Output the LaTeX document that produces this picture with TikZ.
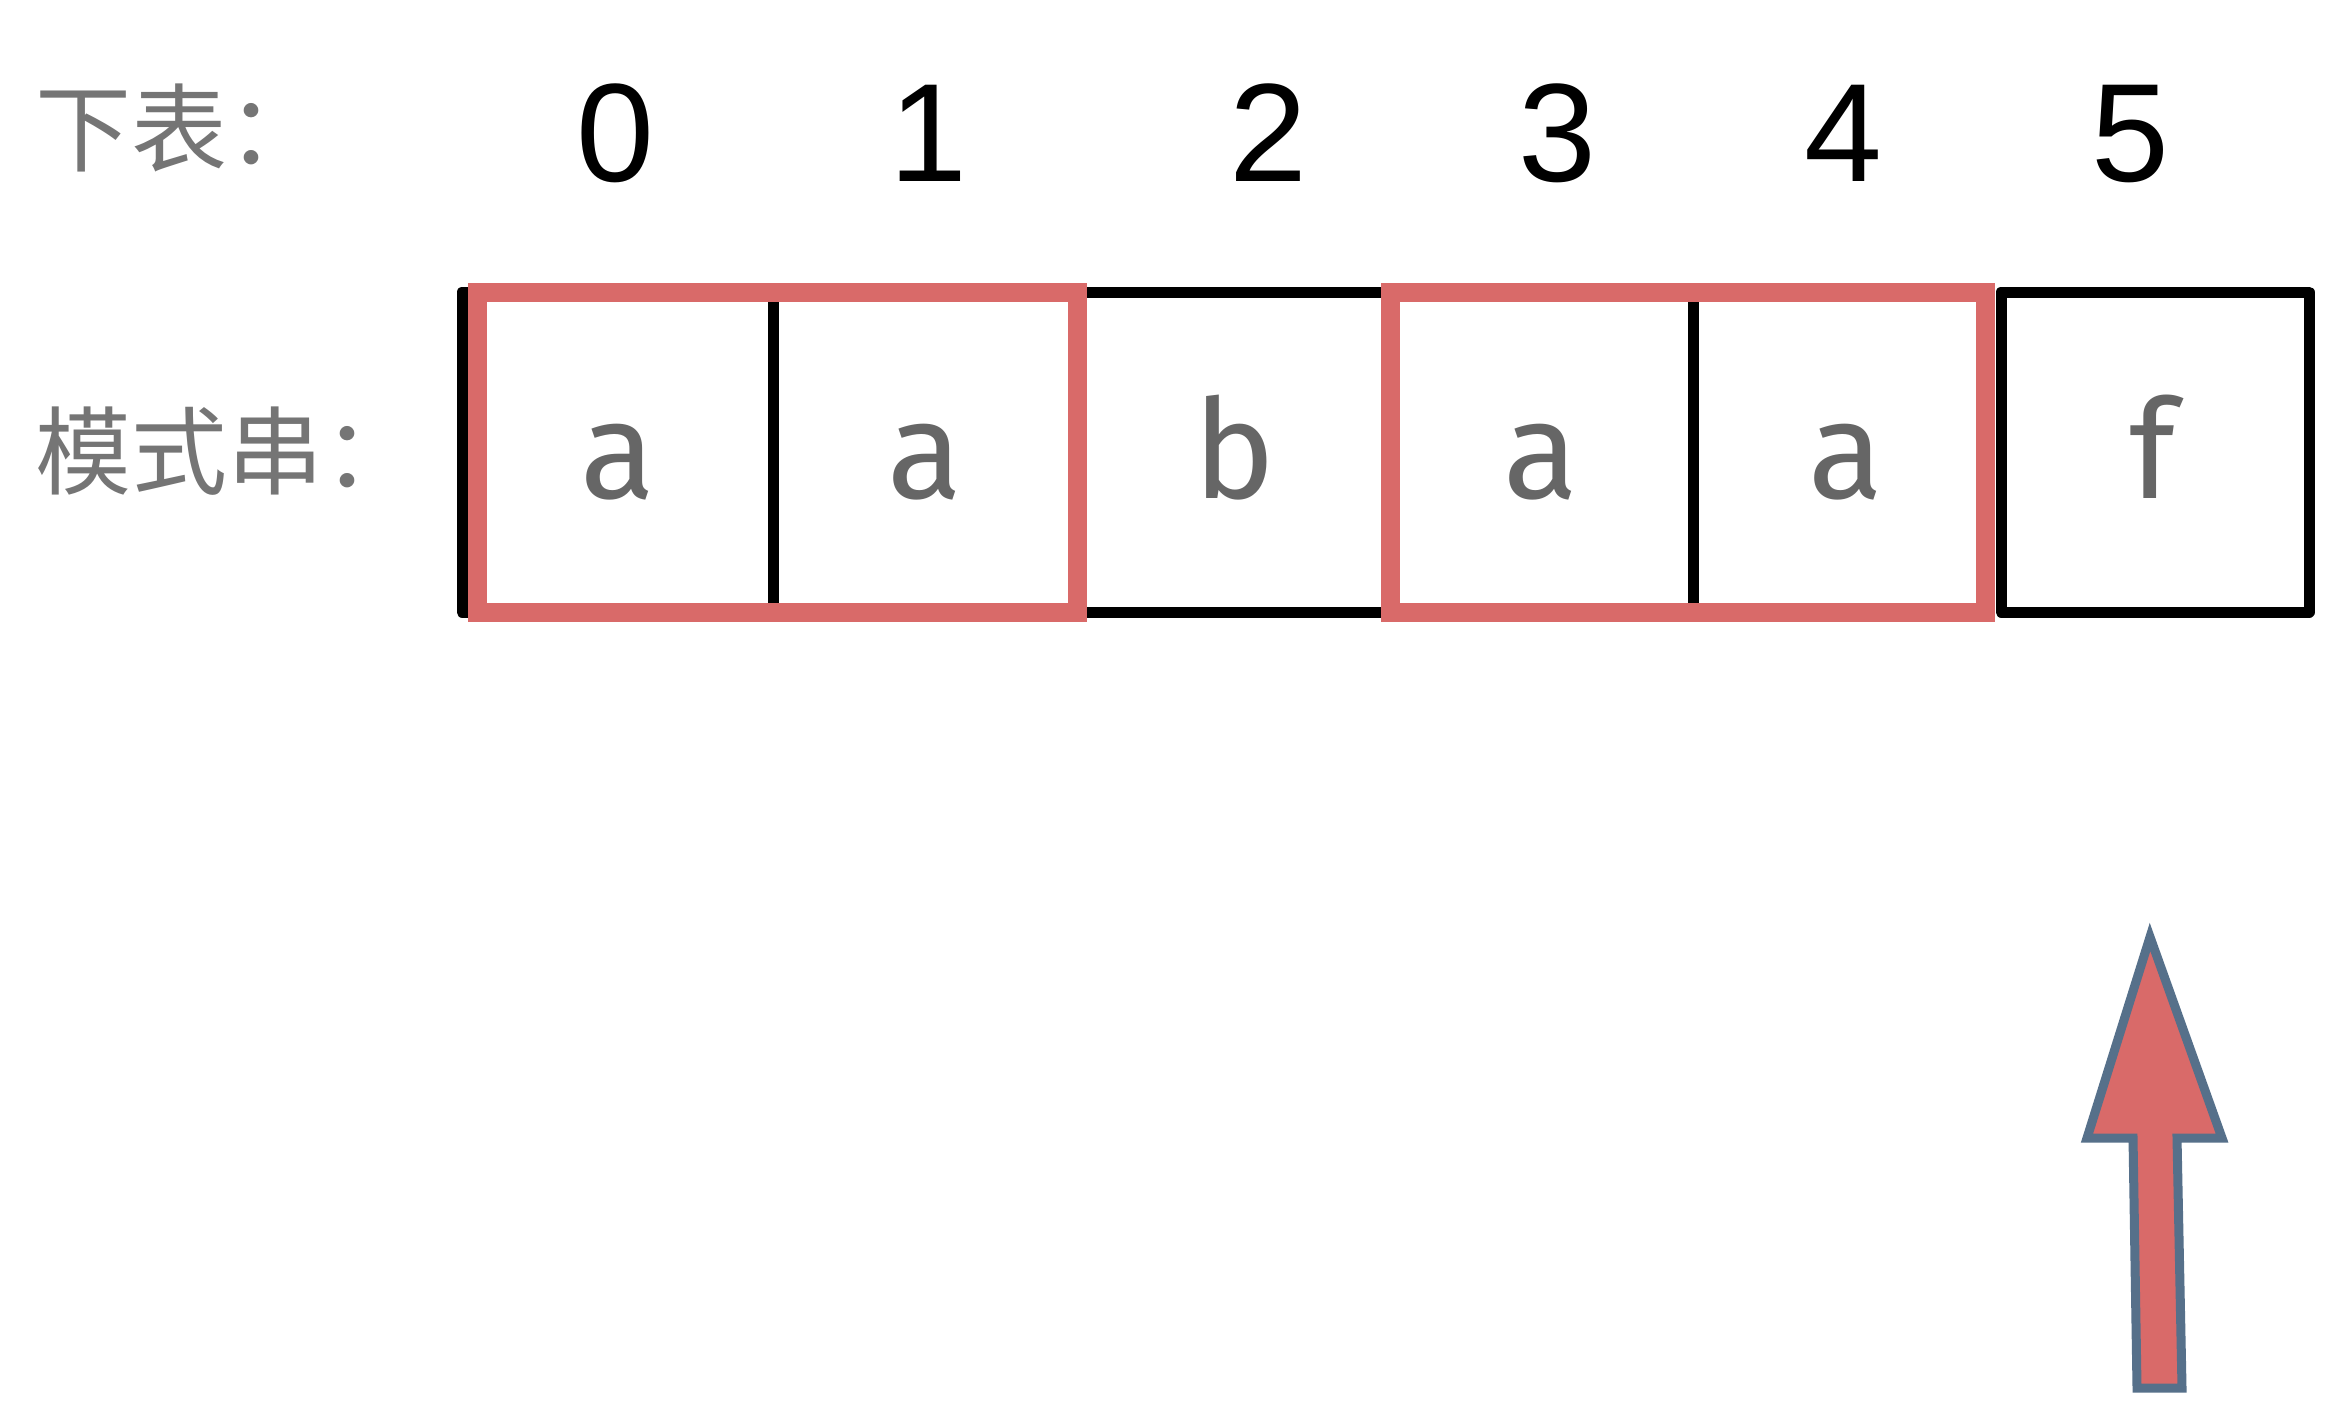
\documentclass[tikz,border=0pt]{standalone}
\usepackage{fontspec}
\setmainfont{Liberation Sans}
\newfontfamily\cjkfont{Noto Sans CJK SC}
\newfontfamily\cellfont{Fira Sans}
\definecolor{cellred}{HTML}{D96A69}
\definecolor{txtgray}{HTML}{666666}
\definecolor{arrowedge}{HTML}{56708A}
\begin{document}
\begin{tikzpicture}[x=0.5pt,y=-0.5pt,
  cellbox/.style={draw=black,line width=5.5pt,line join=round},
  groupbox/.style={draw=cellred,line width=9.5pt,line join=miter},
  idx/.style={anchor=base,inner sep=0pt,font=\fontsize{70pt}{70pt}\selectfont,text=black},
  ch/.style={anchor=base,inner sep=0pt,font=\cellfont\fontsize{69pt}{69pt}\selectfont,text=txtgray},
  lbl/.style={anchor=base west,inner sep=0pt,font=\cjkfont\fontsize{48pt}{48pt}\selectfont,text=txtgray!90},
  ptr/.style={fill=cellred,draw=arrowedge,line width=4.5pt,line join=miter}]
\useasboundingbox[fill=white] (0,0) rectangle (2348,1408);

% labels
\node[lbl] (lblidx) at (35,164) {下表：};
\node[lbl] (lblpat) at (35,487) {模式串：};

% index numbers
\node[idx] (i0) at (615,181) {0};
\node[idx] (i1) at (928,181) {1};
\node[idx] (i2) at (1268,181) {2};
\node[idx] (i3) at (1557,181) {3};
\node[idx] (i4) at (1843,181) {4};
\node[idx] (i5) at (2130,181) {5};

% black cells
\draw[cellbox] (462,292) rectangle (773,612);
\draw[cellbox] (773,292) rectangle (1077,612);
\draw[cellbox] (1077,292) rectangle (1390,612);
\draw[cellbox] (1390,292) rectangle (1693,612);
\draw[cellbox] (1693,292) rectangle (1985,612);
\draw[cellbox] (2001,292) rectangle (2309,612);

% red group boxes
\draw[groupbox] (477,292) rectangle (1077,612);
\draw[groupbox] (1390,292) rectangle (1985,612);

% cell letters
\node[ch] (c0) at (618,498) {a};
\node[ch] (c1) at (925,498) {a};
\node[ch] (c2) at (1234,498) {b};
\node[ch] (c3) at (1541,498) {a};
\node[ch] (c4) at (1846,498) {a};
\node[ch] (c5) at (2153,498) {f};

% pointer arrow
\draw[ptr] (2150,937) -- (2222,1138) -- (2177,1138) -- (2182,1388)
  -- (2137,1388) -- (2133,1138) -- (2087,1138) -- cycle;
\end{tikzpicture}
\end{document}
